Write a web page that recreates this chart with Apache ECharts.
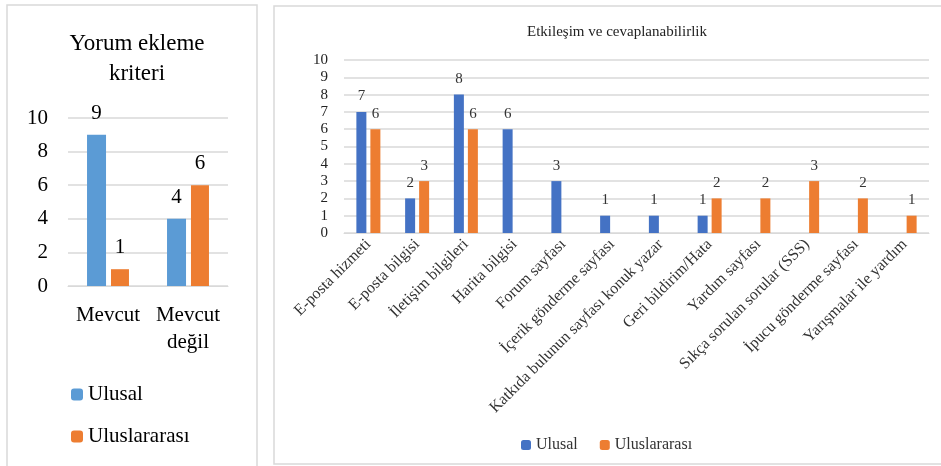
<!DOCTYPE html>
<html>
<head>
<meta charset="utf-8">
<script src="https://cdn.jsdelivr.net/npm/echarts@6/dist/echarts.min.js"></script>
<style>
  html, body { margin: 0; padding: 0; background: #fff; }
  #main { width: 941px; height: 466px; }
</style>
</head>
<body>
<div id="main"></div>
<script>
// left chart: Yorum ekleme kriteri
const leftCats = ['Mevcut', 'Mevcut\ndeğil']
const leftUlusal = [9, 4]
const leftUluslararasi = [1, 6]

// right chart: Etkileşim ve cevaplanabilirlik
const rightCats = [
  'E-posta hizmeti', 'E-posta bilgisi', 'İletişim bilgileri', 'Harita bilgisi',
  'Forum sayfası', 'İçerik gönderme sayfası', 'Katkıda bulunun sayfası konuk yazar',
  'Geri bildirim/Hata', 'Yardım sayfası', 'Sıkça sorulan sorular (SSS)',
  'İpucu gönderme sayfası', 'Yarışmalar ile yardım'
]
const rightUlusal = [7, 2, 8, 6, 3, 1, 1, 1, 0, 0, 0, 0]
const rightUluslararasi = [6, 3, 6, 0, 0, 0, 0, 2, 2, 3, 2, 1]

const serif = '"Liberation Serif", "DejaVu Serif", serif'
const grid = '#d9d9d9'

let dom = document.getElementById('main')
let myChart = echarts.init(dom)

function hideZero(p) {
  return p.value ? String(p.value) : ''
}

var option = {
  animation: false,
  textStyle: { fontFamily: serif },
  graphic: [
    { type: 'rect', shape: { x: 7, y: 5, width: 250, height: 470 },
      style: { fill: 'none', stroke: '#d9d9d9', lineWidth: 1.5 } },
    { type: 'rect', shape: { x: 274, y: 6, width: 680, height: 458 },
      style: { fill: 'none', stroke: '#d9d9d9', lineWidth: 1.5 } }
  ],
  title: [
    {
      text: 'Yorum ekleme\nkriteri',
      left: 132, top: 24, textAlign: 'center',
      textStyle: { fontFamily: serif, fontSize: 23, fontWeight: 'normal', color: '#000', lineHeight: 30 }
    },
    {
      text: 'Etkileşim ve cevaplanabilirlik',
      left: 612, top: 20, textAlign: 'center',
      textStyle: { fontFamily: serif, fontSize: 15, fontWeight: 'normal', color: '#222' }
    }
  ],
  legend: [
    {
      orient: 'vertical', left: 66, top: 379,
      itemWidth: 12, itemHeight: 12, itemGap: 21,
      textStyle: { fontFamily: serif, fontSize: 21, color: '#000' },
      data: [
        { name: 'Ulusal ', itemStyle: { color: '#5B9BD5' } },
        { name: 'Uluslararası ', itemStyle: { color: '#ED7D31' } }
      ]
    },
    {
      orient: 'horizontal', left: 516, top: 432,
      itemWidth: 10, itemHeight: 10, itemGap: 22,
      textStyle: { fontFamily: serif, fontSize: 16, color: '#333' },
      data: [
        { name: 'Ulusal', itemStyle: { color: '#4472C4' } },
        { name: 'Uluslararası', itemStyle: { color: '#ED7D31' } }
      ]
    }
  ],
  grid: [
    { left: 68, right: 713, top: 118, bottom: 180 },
    { left: 344, right: 12, top: 60, bottom: 233 }
  ],
  xAxis: [
    {
      gridIndex: 0, type: 'category', data: leftCats,
      axisLine: { lineStyle: { color: grid } }, axisTick: { show: false },
      axisLabel: { fontFamily: serif, fontSize: 21, color: '#000', margin: 16, lineHeight: 27, interval: 0 }
    },
    {
      gridIndex: 1, type: 'category', data: rightCats,
      axisLine: { lineStyle: { color: grid } }, axisTick: { show: false },
      axisLabel: { fontFamily: serif, fontSize: 16, color: '#333', rotate: 45, margin: 9, interval: 0 }
    }
  ],
  yAxis: [
    {
      gridIndex: 0, type: 'value', min: 0, max: 10, interval: 2,
      axisLine: { show: false }, axisTick: { show: false },
      splitLine: { lineStyle: { color: grid, width: 1.5 } },
      axisLabel: { fontFamily: serif, fontSize: 21, color: '#000', margin: 20 }
    },
    {
      gridIndex: 1, type: 'value', min: 0, max: 10, interval: 1,
      axisLine: { show: false }, axisTick: { show: false },
      splitLine: { lineStyle: { color: grid, width: 1.5 } },
      axisLabel: { fontFamily: serif, fontSize: 15, color: '#222', margin: 16 }
    }
  ],
  series: [
    {
      name: 'Ulusal ', type: 'bar', xAxisIndex: 0, yAxisIndex: 0,
      data: leftUlusal, barWidth: 19, barGap: '26%',
      itemStyle: { color: '#5B9BD5' },
      label: { show: true, position: 'top', distance: 11, fontFamily: serif, fontSize: 21, color: '#000' }
    },
    {
      name: 'Uluslararası ', type: 'bar', xAxisIndex: 0, yAxisIndex: 0,
      data: leftUluslararasi, barWidth: 18, barGap: '26%',
      itemStyle: { color: '#ED7D31' },
      label: { show: true, position: 'top', distance: 11, fontFamily: serif, fontSize: 21, color: '#000' }
    },
    {
      name: 'Ulusal', type: 'bar', xAxisIndex: 1, yAxisIndex: 1,
      data: rightUlusal, barWidth: 10, barGap: '40%',
      itemStyle: { color: '#4472C4' },
      label: { show: true, position: 'top', distance: 8, fontFamily: serif, fontSize: 15, color: '#333', formatter: hideZero }
    },
    {
      name: 'Uluslararası', type: 'bar', xAxisIndex: 1, yAxisIndex: 1,
      data: rightUluslararasi, barWidth: 10, barGap: '40%',
      itemStyle: { color: '#ED7D31' },
      label: { show: true, position: 'top', distance: 8, fontFamily: serif, fontSize: 15, color: '#333', formatter: hideZero }
    }
  ]
}

if (option && typeof option === 'object') {
  myChart.setOption(option)
}
</script>
</body>
</html>
